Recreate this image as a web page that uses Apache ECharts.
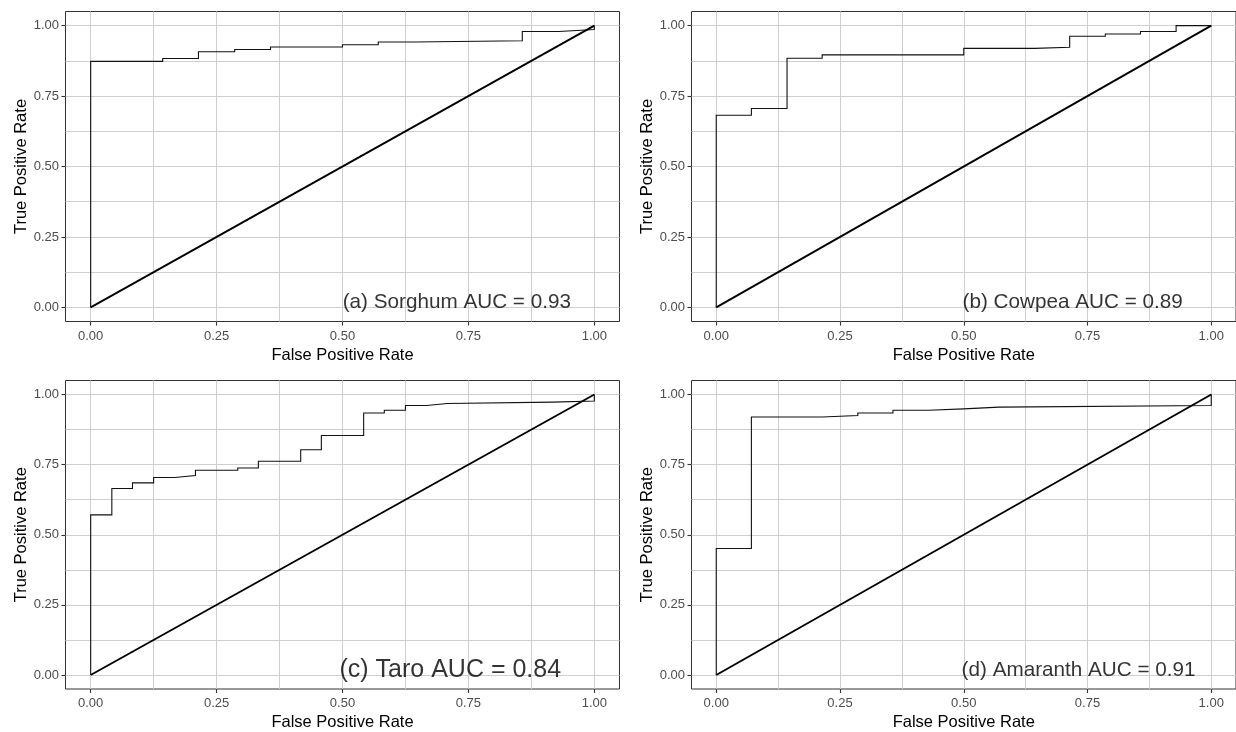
<!DOCTYPE html>
<html>
<head>
<meta charset="utf-8">
<script src="https://cdn.jsdelivr.net/npm/echarts@6/dist/echarts.min.js"></script>
<style>
  html, body { margin: 0; padding: 0; background: #ffffff; }
  #chart { width: 1236px; height: 732px; }
</style>
</head>
<body>
<div id="chart"></div>
<script>
// ---- data (ROC knots: FPR, TPR after each step) ----
const sorghumFpr = [0, 0, 0.143, 0.214, 0.286, 0.357, 0.5, 0.571, 0.643, 0.857, 0.929, 1];
const sorghumTpr = [0, 0.873, 0.883, 0.907, 0.915, 0.924, 0.932, 0.942, 0.946, 0.979, 0.986, 1];

const cowpeaFpr = [0, 0, 0.071, 0.143, 0.214, 0.5, 0.643, 0.714, 0.786, 0.857, 0.929, 1];
const cowpeaTpr = [0, 0.682, 0.706, 0.884, 0.896, 0.919, 0.923, 0.962, 0.970, 0.979, 1, 1];

const taroFpr = [0, 0, 0.042, 0.083, 0.125, 0.167, 0.208, 0.292, 0.333, 0.417, 0.458, 0.542, 0.583, 0.625, 0.667, 0.708, 0.917, 1];
const taroTpr = [0, 0.571, 0.665, 0.685, 0.704, 0.711, 0.730, 0.738, 0.762, 0.803, 0.854, 0.934, 0.944, 0.961, 0.968, 0.973, 0.977, 1];

const amaranthFpr = [0, 0, 0.071, 0.214, 0.286, 0.357, 0.429, 0.5, 0.571, 1];
const amaranthTpr = [0, 0.451, 0.920, 0.925, 0.934, 0.944, 0.949, 0.955, 0.961, 1];

const diagonalX = [0, 1];
const diagonalY = [0, 1];

const panelLabels = ['(a) Sorghum AUC = 0.93', '(b) Cowpea AUC = 0.89', '(c) Taro AUC = 0.84', '(d) Amaranth AUC = 0.91'];
const labelX = [0.727, 0.72, 0.714, 0.732];
const labelY = [0.018, 0.018, 0.018, 0.018];

const majorTicks = [0, 0.25, 0.5, 0.75, 1];
const gridTicks = [0, 0.125, 0.25, 0.375, 0.5, 0.625, 0.75, 0.875, 1];

const xTitle = 'False Positive Rate';
const yTitle = 'True Positive Rate';

// ---- chart ----
const FONT = "'Liberation Sans', Arial, Helvetica, sans-serif";
const labelFontSizes = [20.7, 20.7, 25, 20.7];
const curves = [
  [sorghumFpr, sorghumTpr],
  [cowpeaFpr, cowpeaTpr],
  [taroFpr, taroTpr],
  [amaranthFpr, amaranthTpr]
];
const zip = (xs, ys) => xs.map((x, i) => [x, ys[i]]);
// staircase: move horizontally to the next FPR, then vertically to the next TPR
function stairs(xs, ys) {
  const pts = [[xs[0], ys[0]]];
  for (let i = 1; i < xs.length; i++) {
    pts.push([xs[i], ys[i - 1]]);
    pts.push([xs[i], ys[i]]);
  }
  return pts;
}

const grids = [
  { left: 65.5, top: 11.5, width: 554, height: 310 },
  { left: 691.5, top: 11.5, width: 554, height: 310 },
  { left: 65.5, top: 380.5, width: 554, height: 310 },
  { left: 691.5, top: 380.5, width: 554, height: 310 }
].map(g => Object.assign(g, { show: true, borderColor: '#333333', borderWidth: 1, backgroundColor: 'transparent', containLabel: false }));

function mainAxis(gi, isX) {
  return {
    type: 'value', gridIndex: gi, min: -0.05, max: 1.05,
    position: isX ? 'bottom' : 'left',
    name: isX ? xTitle : yTitle,
    nameLocation: 'middle',
    nameGap: isX ? 25 : 36,
    nameTextStyle: { fontFamily: FONT, fontSize: 16.5, color: '#000000' },
    axisLine: { show: false, onZero: false },
    axisTick: { show: false, customValues: gridTicks },
    axisLabel: {
      customValues: majorTicks, fontFamily: FONT, fontSize: 13, color: '#4d4d4d',
      margin: isX ? 8 : 6.5, formatter: v => Number(v).toFixed(2)
    },
    splitLine: { show: true, lineStyle: { color: '#cfcfcf', width: 1 } },
    minorSplitLine: { show: false }
  };
}
function tickAxis(gi, isX) {
  return {
    type: 'value', gridIndex: gi, min: -0.05, max: 1.05,
    position: isX ? 'bottom' : 'left',
    axisLine: { show: false, onZero: false },
    axisTick: { show: true, inside: false, customValues: majorTicks, length: 4, lineStyle: { color: '#333333', width: 1.1 } },
    axisLabel: { show: false },
    splitLine: { show: false }
  };
}

const xAxes = [], yAxes = [];
for (let i = 0; i < 4; i++) { xAxes.push(mainAxis(i, true)); yAxes.push(mainAxis(i, false)); }
for (let i = 0; i < 4; i++) { xAxes.push(tickAxis(i, true)); yAxes.push(tickAxis(i, false)); }

const series = [];
curves.forEach((c, i) => {
  series.push({
    type: 'line', xAxisIndex: i, yAxisIndex: i,
    data: stairs(c[0], c[1]), symbol: 'none', silent: true,
    lineStyle: { color: '#111111', width: 1.1, join: 'miter' }, z: 3
  });
  series.push({
    type: 'line', xAxisIndex: i, yAxisIndex: i,
    data: zip(diagonalX, diagonalY), symbol: 'none', silent: true,
    lineStyle: { color: '#000000', width: 1.9 }, z: 4
  });
  series.push({
    type: 'scatter', xAxisIndex: i, yAxisIndex: i,
    data: [[labelX[i], labelY[i]]], symbolSize: 0, silent: true, z: 5,
    label: {
      show: true, position: 'inside', formatter: panelLabels[i],
      fontFamily: FONT, fontSize: labelFontSizes[i], color: '#000000', align: 'center', verticalAlign: 'middle'
    }
  });
});

const chart = echarts.init(document.getElementById('chart'), null, { renderer: 'canvas' });
chart.setOption({
  animation: false,
  backgroundColor: '#ffffff',
  grid: grids,
  xAxis: xAxes,
  yAxis: yAxes,
  series: series
});
</script>
</body>
</html>
